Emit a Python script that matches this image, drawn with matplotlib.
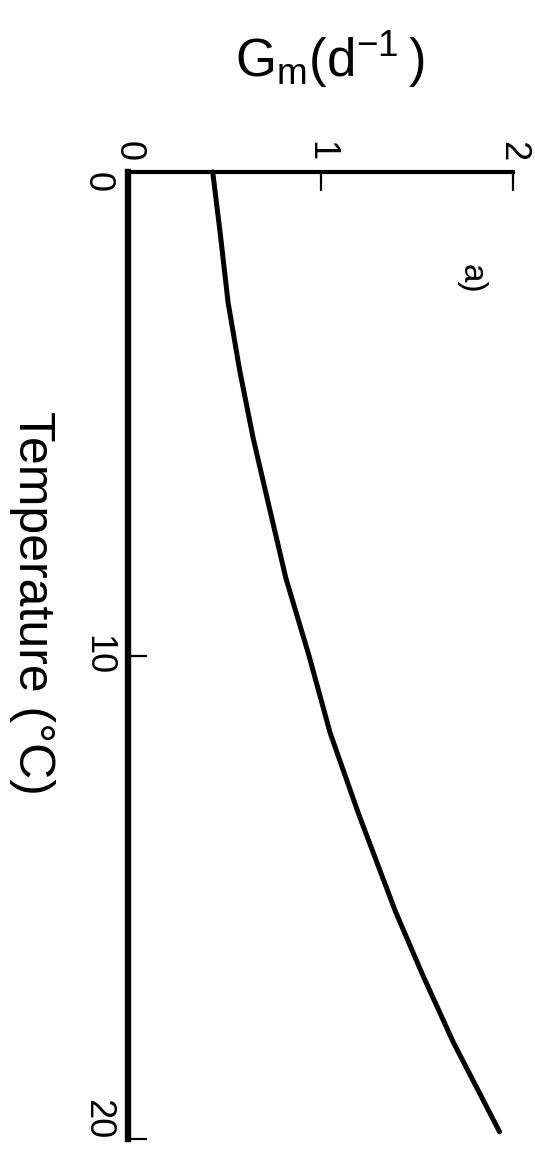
import matplotlib
matplotlib.use("Agg")
import matplotlib.pyplot as plt

plt.rcParams["font.family"] = ["Liberation Sans", "DejaVu Sans"]
plt.rcParams["mathtext.default"] = "regular"

temperature = [0, 1.3, 2.7, 4.1, 5.5, 6.7, 8.4, 10.0, 11.6, 13.3, 15.3, 16.6, 18.0, 19.85]
gm = [0.44, 0.48, 0.52, 0.58, 0.65, 0.72, 0.82, 0.94, 1.05, 1.20, 1.39, 1.53, 1.69, 1.93]
gm_ticks = [0, 1, 2]
temp_ticks = [0, 10, 20]

fig = plt.figure(figsize=(5.35, 11.5), dpi=100)
ax = fig.add_axes([128 / 535, 11 / 1150, 385 / 535, 967 / 1150])

# figure is rotated: Gm runs across, temperature runs down
ax.plot(gm, temperature, color="black", lw=3.6, solid_capstyle="round",
        solid_joinstyle="round", clip_on=False)

ax.set_xlim(0, 2)
ax.set_ylim(20, 0)

ax.spines["right"].set_visible(False)
ax.spines["bottom"].set_visible(False)
ax.spines["top"].set_linewidth(3.0)
ax.spines["left"].set_linewidth(4.6)

ax.xaxis.tick_top()
ax.set_xticks(gm_ticks)
ax.set_xticklabels([str(v) for v in gm_ticks], rotation=-90, va="center", ha="center")
ax.set_yticks(temp_ticks)
ax.set_yticklabels([str(v) for v in temp_ticks], rotation=-90, ha="center")
ylabs = ax.get_yticklabels()
ylabs[0].set_va("top")
ylabs[1].set_va("center")
ylabs[2].set_va("bottom")
ax.tick_params(axis="x", direction="in", length=14, width=1.6, pad=15, labelsize=26)
ax.tick_params(axis="y", direction="in", length=14, width=1.6, pad=22, labelsize=26)

fig.text(471 / 535, 1 - 279 / 1150, "a)", rotation=-90, fontsize=24,
         ha="center", va="center")
fig.text(32 / 535, 1 - 603 / 1150, "Temperature (°C)", rotation=-90, fontsize=36,
         ha="center", va="center")
fig.text(330 / 535, 1 - 60 / 1150, r"$G_m(d^{-1}\,)$", fontsize=38,
         ha="center", va="center")

plt.savefig("out.png", dpi=100)
plt.close()
